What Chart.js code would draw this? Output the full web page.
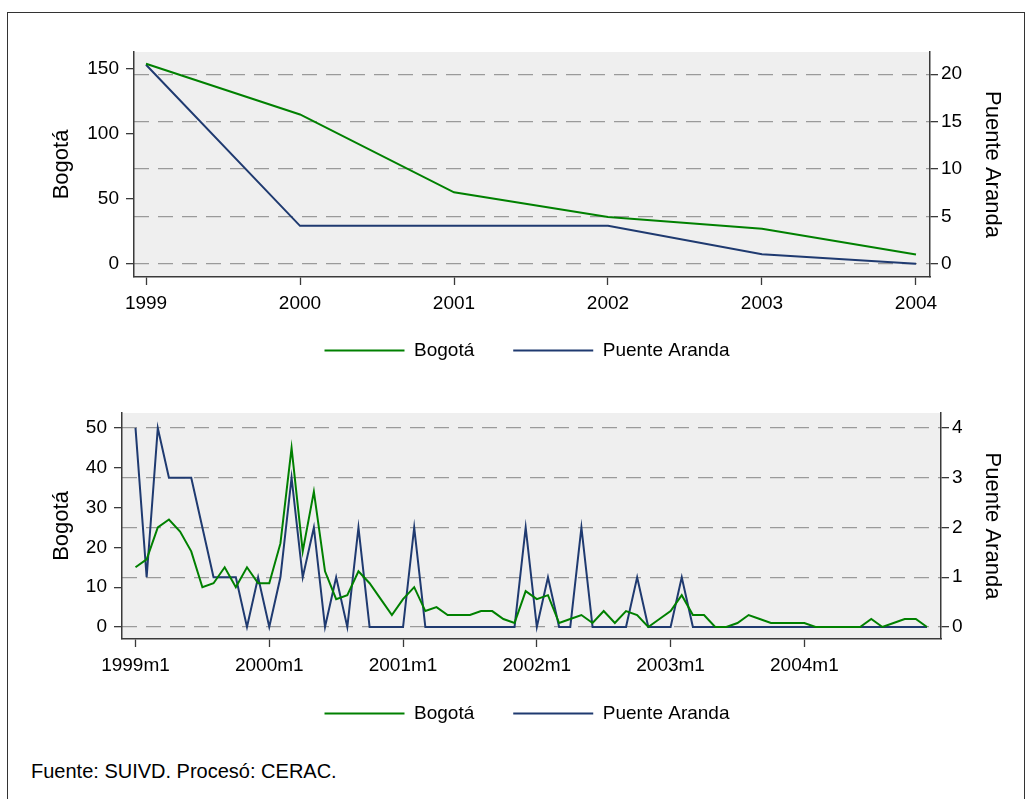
<!DOCTYPE html>
<html>
<head>
<meta charset="utf-8">
<script src="https://cdn.jsdelivr.net/npm/chart.js@4/dist/chart.umd.min.js"></script>
<style>
  html, body { margin: 0; padding: 0; background: #fff; }
  body { width: 1032px; height: 799px; position: relative; overflow: hidden; font-family: "Liberation Sans", Arial, sans-serif; }
  #frame { position: absolute; left: 7px; top: 12px; width: 1016px; height: 800px; border: 1px solid #333; border-bottom: none; }
  #c1 { position: absolute; left: 8px; top: 13px; }
  #c2 { position: absolute; left: 8px; top: 379px; }
  #note { position: absolute; left: 31px; top: 760px; font-size: 20px; color: #000; }
</style>
</head>
<body>
<div id="frame"></div>
<canvas id="c1" width="1016" height="366"></canvas>
<canvas id="c2" width="1016" height="363"></canvas>
<div id="note">Fuente: SUIVD. Procesó: CERAC.</div>
<script>
// ---------- DATA ----------
const years = [1999, 2000, 2001, 2002, 2003, 2004];
const bogotaAnnual = [154, 115, 55, 36, 27, 7];
const puenteAnnual = [21, 4, 4, 4, 1, 0];

const monthNums = [1,2,3,4,5,6,7,8,9,10,11,12];
const bogotaMonthly = [
  15, 17, 25, 27, 24, 19, 10, 11, 15, 10, 15, 11,
  11, 21, 45, 19, 34, 14, 7, 8, 14, 11, 7, 3,
  7, 10, 4, 5, 3, 3, 3, 4, 4, 2, 1, 9,
  7, 8, 1, 2, 3, 1, 4, 1, 4, 3, 0, 2,
  4, 8, 3, 3, 0, 0, 1, 3, 2, 1, 1, 1,
  1, 0, 0, 0, 0, 0, 2, 0, 1, 2, 2, 0
];
const puenteMonthly = [
  4, 1, 4, 3, 3, 3, 2, 1, 1, 1, 0, 1,
  0, 1, 3, 1, 2, 0, 1, 0, 2, 0, 0, 0,
  0, 2, 0, 0, 0, 0, 0, 0, 0, 0, 0, 2,
  0, 1, 0, 0, 2, 0, 0, 0, 0, 1, 0, 0,
  0, 1, 0, 0, 0, 0, 0, 0, 0, 0, 0, 0,
  0, 0, 0, 0, 0, 0, 0, 0, 0, 0, 0, 0
];

const topLeftTicks = [0, 50, 100, 150];
const topRightTicks = [0, 5, 10, 15, 20];
const botLeftTicks = [0, 10, 20, 30, 40, 50];
const botRightTicks = [0, 1, 2, 3, 4];
const seriesNames = ['Bogotá', 'Puente Aranda'];

// categories for monthly chart
const monthLabels = [];
years.forEach(y => monthNums.forEach(m => monthLabels.push(y + 'm' + m)));
const monthTickIdx = years.map((y) => monthLabels.indexOf(y + 'm1'));

// ---------- STYLE ----------
const GREEN = '#008000';
const NAVY = '#1f3a70';
const AXIS = '#3a3a3a';
const GRID = '#9a9a9a';
const FONT = '"Liberation Sans", Arial, sans-serif';
Chart.defaults.font.family = FONT;
Chart.defaults.color = '#000';

const bgPlugin = {
  id: 'plotbg',
  beforeDraw(chart) {
    const a = chart.chartArea, ctx = chart.ctx;
    ctx.save();
    ctx.fillStyle = '#efefef';
    ctx.fillRect(a.left, a.top, a.right - a.left, a.bottom - a.top);
    ctx.restore();
  }
};

function fixTicks(list) {
  return function (scale) { scale.ticks = list.map(v => ({ value: v })); };
}
function fixSize(prop, size) {
  return function (scale) { scale[prop] = size; };
}
function fixXHeight(size) {
  return function (scale) {
    scale.height = size;
    // let the tick labels spill below the (short) axis box instead of being clipped
    scale._computeLabelArea = function () { return undefined; };
  };
}

function legendOpts() {
  return {
    position: 'bottom',
    labels: {
      boxWidth: 80,
      boxHeight: 2,
      padding: 39,
      font: { size: 19 },
      color: '#000',
      generateLabels(chart) {
        return Chart.defaults.plugins.legend.labels.generateLabels(chart).map(l =>
          Object.assign({}, l, { lineWidth: 0, fillStyle: l.strokeStyle }));
      }
    }
  };
}

function yScale(pos, min, max, ticks, width, grid) {
  return {
    type: 'linear',
    position: pos,
    min: min, max: max,
    afterBuildTicks: fixTicks(ticks),
    afterFit: fixSize('width', width),
    border: { display: true, color: AXIS, width: 1.5, dash: grid ? [15, 9] : [] },
    grid: {
      drawOnChartArea: grid,
      color: GRID,
      lineWidth: 1.3,
      tickColor: AXIS,
      tickLength: 8,
      tickBorderDash: [],
      tickWidth: 1.3
    },
    ticks: { font: { size: 19 }, color: '#000', padding: pos === 'left' ? 7 : 3, autoSkip: false },
    title: {
      display: true,
      text: pos === 'left' ? seriesNames[0] : seriesNames[1],
      font: { size: 22 },
      color: '#000',
      padding: { top: 4, bottom: 4 }
    }
  };
}

function xTicks(cb) {
  return { font: { size: 19 }, color: '#000', padding: 7, maxRotation: 0, autoSkip: false, callback: cb };
}

// ---------- CHART 1 (annual) ----------
new Chart(document.getElementById('c1'), {
  type: 'line',
  data: {
    datasets: [
      { label: seriesNames[0], data: years.map((y, i) => ({ x: y, y: bogotaAnnual[i] })),
        borderColor: GREEN, backgroundColor: GREEN, borderWidth: 2, pointRadius: 0, yAxisID: 'y', tension: 0 },
      { label: seriesNames[1], data: years.map((y, i) => ({ x: y, y: puenteAnnual[i] })),
        borderColor: NAVY, backgroundColor: NAVY, borderWidth: 2, pointRadius: 0, yAxisID: 'y1', tension: 0 }
    ]
  },
  options: {
    responsive: false,
    animation: false,
    devicePixelRatio: 1,
    layout: { padding: { left: 36.8, right: 14.8, top: 39, bottom: 9 } },
    plugins: { legend: legendOpts(), tooltip: { enabled: false } },
    scales: {
      x: {
        type: 'linear',
        min: 1998.922, max: 2004.091,
        afterBuildTicks: fixTicks(years),
        afterFit: fixXHeight(25),
        border: { display: true, color: AXIS, width: 1.5 },
        grid: { drawOnChartArea: false, tickColor: AXIS, tickLength: 8, tickWidth: 1.3 },
        ticks: xTicks(v => String(v))
      },
      y: yScale('left', -10.25, 163.1, topLeftTicks, 89.2, false),
      y1: yScale('right', -1.40, 22.35, topRightTicks, 79.2, true)
    }
  },
  plugins: [bgPlugin]
});

// ---------- CHART 2 (monthly) ----------
new Chart(document.getElementById('c2'), {
  type: 'line',
  data: {
    datasets: [
      { label: seriesNames[0], data: bogotaMonthly.map((v, i) => ({ x: i, y: v })),
        borderColor: GREEN, backgroundColor: GREEN, borderWidth: 2, pointRadius: 0, yAxisID: 'y', tension: 0 },
      { label: seriesNames[1], data: puenteMonthly.map((v, i) => ({ x: i, y: v })),
        borderColor: NAVY, backgroundColor: NAVY, borderWidth: 2, pointRadius: 0, yAxisID: 'y1', tension: 0 }
    ]
  },
  options: {
    responsive: false,
    animation: false,
    devicePixelRatio: 1,
    layout: { padding: { left: 36.8, right: 14.8, top: 34, bottom: 9 } },
    plugins: { legend: legendOpts(), tooltip: { enabled: false } },
    scales: {
      x: {
        type: 'linear',
        min: -1.211, max: 72.256,
        afterBuildTicks: fixTicks(monthTickIdx),
        afterFit: fixXHeight(26),
        border: { display: true, color: AXIS, width: 1.5 },
        grid: { drawOnChartArea: false, tickColor: AXIS, tickLength: 8, tickWidth: 1.3 },
        ticks: xTicks(v => monthLabels[v])
      },
      y: yScale('left', -3.02, 53.77, botLeftTicks, 77.2, false),
      y1: yScale('right', -0.241, 4.30, botRightTicks, 68.2, true)
    }
  },
  plugins: [bgPlugin]
});
</script>
</body>
</html>
